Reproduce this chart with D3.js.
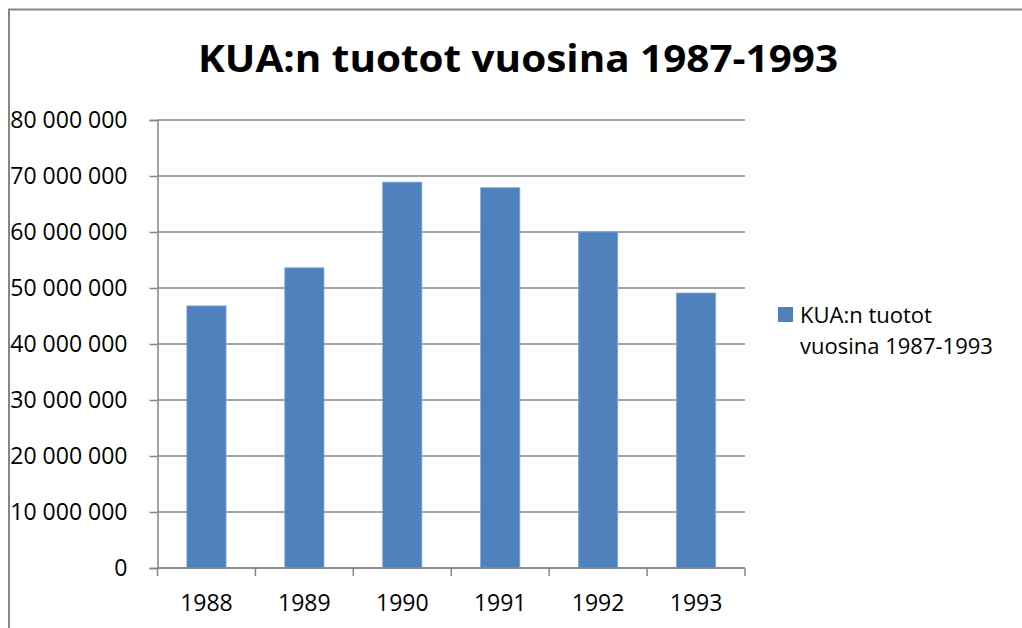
<!DOCTYPE html>
<html>
<head>
<meta charset="utf-8">
<script src="https://cdn.jsdelivr.net/npm/d3@7"></script>
<style>
	body { margin: 0; background: #fff; }
	text { font-family: "Open Sans", "Noto Sans", sans-serif; fill: #000; }
</style>
</head>
<body>
<div id="main"></div>
<script>

const title = "KUA:n tuotot vuosina 1987-1993"
const years = ["1988", "1989", "1990", "1991", "1992", "1993"]
const values = [46800000, 53600000, 68900000, 67900000, 60000000, 49100000]
const yTicks = [0, 10000000, 20000000, 30000000, 40000000, 50000000, 60000000, 70000000, 80000000]

let margin = {top: 120, right: 277, bottom: 60, left: 157.5}
let W = 1022, H = 628
let width = W - margin.left - margin.right
let height = H - margin.top - margin.bottom

let x = d3.scaleBand()
	.domain(years)
	.range([0, width])
	.paddingInner(0.6)
	.paddingOuter(0.3)

let xb = d3.scaleBand()
	.domain(years)
	.range([0, width])

let y = d3.scaleLinear()
	.domain([0, 80000000])
	.range([height, 0])

const fmt = d => d3.format(",")(d).replace(/,/g, " ")

let svg = d3.select("#main")
	.append("svg")
		.attr("width", W)
		.attr("height", H)

// chart border (left + top)
svg.append("path")
	.attr("d", `M9,${H} V9.5 H${W}`)
	.attr("fill", "none")
	.attr("stroke", "#868686")
	.attr("stroke-width", 2)

svg.append("text")
	.attr("x", 518)
	.attr("y", 72)
	.attr("text-anchor", "middle")
	.attr("font-size", 37)
	.attr("font-weight", "bold")
	.attr("textLength", 640)
	.attr("lengthAdjust", "spacingAndGlyphs")
	.text(title)

let g = svg.append("g")
	.attr("transform", `translate(${margin.left}, ${margin.top})`)

// gridlines
g.append("g")
	.selectAll("line")
	.data(yTicks)
	.enter()
	.append("line")
		.attr("x1", 0)
		.attr("x2", width)
		.attr("y1", d => y(d))
		.attr("y2", d => y(d))
		.attr("stroke", "#868686")
		.attr("stroke-width", 1.5)

// Y axis
let yAxis = g.append("g")
	.call(d3.axisLeft(y).tickValues(yTicks).tickFormat(fmt).tickSize(8).tickPadding(22))
yAxis.select(".domain").attr("stroke", "#868686").attr("stroke-width", 1.5)
yAxis.selectAll(".tick line").attr("stroke", "#868686").attr("stroke-width", 1.5)
yAxis.selectAll("text")
	.attr("font-size", 23)
	.attr("font-family", "'Open Sans', sans-serif")
	.attr("fill", "#000")

g.selectAll(".bar")
	.data(values)
	.enter()
	.append("rect")
		.attr("class", "bar")
		.attr("x", (d, i) => x(years[i]))
		.attr("width", x.bandwidth())
		.attr("y", d => y(d))
		.attr("height", d => height - y(d))
		.attr("fill", "#4f81bd")
		.attr("stroke", "#7fa6d6")
		.attr("stroke-width", 0.8)

// X axis: ticks at category boundaries
let xa = g.append("g")
	.attr("transform", `translate(0,${height})`)
xa.append("line")
	.attr("x1", 0)
	.attr("x2", width)
	.attr("stroke", "#868686")
	.attr("stroke-width", 1.5)
xa.selectAll(".bt")
	.data(years.concat(["end"]))
	.enter()
	.append("line")
		.attr("class", "bt")
		.attr("x1", (d, i) => i * xb.step())
		.attr("x2", (d, i) => i * xb.step())
		.attr("y1", 0)
		.attr("y2", 8)
		.attr("stroke", "#868686")
		.attr("stroke-width", 1.5)
xa.selectAll(".lbl")
	.data(years)
	.enter()
	.append("text")
		.attr("class", "lbl")
		.attr("x", d => xb(d) + xb.bandwidth() / 2)
		.attr("y", 43)
		.attr("text-anchor", "middle")
		.attr("font-size", 23)
		.text(d => d)

// legend
let legend = svg.append("g")
	.attr("transform", "translate(778, 307)")
legend.append("rect")
	.attr("width", 15)
	.attr("height", 15)
	.attr("fill", "#4f81bd")
legend.append("text")
	.attr("x", 22)
	.attr("y", 15.5)
	.attr("font-size", 22)
	.text("KUA:n tuotot")
legend.append("text")
	.attr("x", 22)
	.attr("y", 46.5)
	.attr("font-size", 22)
	.text("vuosina 1987-1993")

</script>
</body>
</html>
